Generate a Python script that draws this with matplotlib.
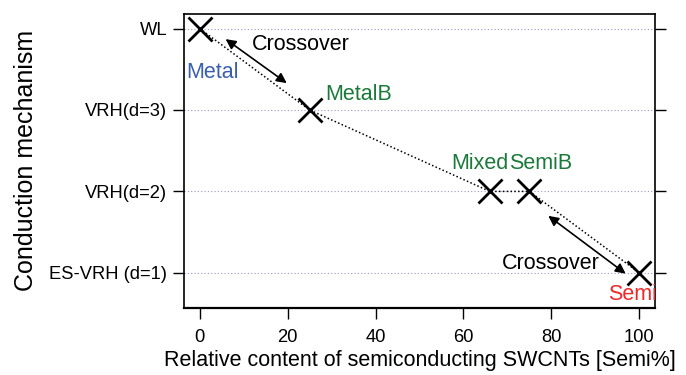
"""
Conduction mechanism vs. semiconducting SWCNT content.
"""
import matplotlib
matplotlib.use('Agg')
import matplotlib.pyplot as plt

plt.rcParams['font.family'] = ['Liberation Sans', 'DejaVu Sans']

# data
semi_pct = [0, 25, 66, 75, 100]
mechanism = [4, 3, 2, 2, 1]
sample_names = ['Metal', 'MetalB', 'Mixed', 'SemiB', 'Semi']
name_colors = ['#3a5fb0', '#1a7a3a', '#1a7a3a', '#1a7a3a', '#f02828']
name_pos = [(-3.0, 3.46), (28.5, 3.195), (57.2, 2.34), (70.4, 2.34), (92.8, 0.73)]

mech_levels = [1, 2, 3, 4]
mech_labels = ['ES-VRH (d=1)', 'VRH(d=2)', 'VRH(d=3)', 'WL']

arrows = [((5.9, 3.87), (19.8, 3.33)), ((79.3, 1.70), (96.9, 0.99))]
cross_pos = [(23.0, 3.80), (79.8, 1.11)]

fig = plt.figure(figsize=(6.86, 3.75), dpi=100)
ax = fig.add_axes([0.268, 0.179, 0.687, 0.784])

for lv in mech_levels:
    ax.axhline(lv, color='#9999cc', lw=0.8, ls=(0, (1, 2)), zorder=0)

ax.plot(semi_pct, mechanism, color='black', lw=1.1, ls=(0, (1, 1.5)), zorder=1)
ax.plot(semi_pct, mechanism, ls='none', marker='x', ms=17, mew=2, color='black', zorder=3)

for name, c, (tx, ty) in zip(sample_names, name_colors, name_pos):
    ax.text(tx, ty, name, color=c, fontsize=15.5, ha='left', va='center', clip_on=True)

for (p0, p1) in arrows:
    ax.annotate('', xy=p1, xytext=p0,
                arrowprops=dict(arrowstyle='<|-|>', color='black', lw=1.2,
                                mutation_scale=15, shrinkA=0, shrinkB=0))
for (tx, ty) in cross_pos:
    ax.text(tx, ty, 'Crossover', fontsize=15.5, ha='center', va='center')

ax.set_xlim(-3.6, 103.6)
ax.set_ylim(0.57, 4.18)
ax.set_xticks([0, 20, 40, 60, 80, 100])
ax.set_yticks(mech_levels)
ax.set_yticklabels(mech_labels)
ax.tick_params(axis='both', direction='out', length=8, width=1, labelsize=13.2)
ax.tick_params(axis='x', pad=7)
ax.tick_params(axis='y', right=True, pad=4)
ax.spines['bottom'].set_visible(False)
for s in ['left', 'right', 'top']:
    ax.spines[s].set_linewidth(1.2)
ax.axhline(0.57, color='black', lw=1.6, clip_on=False)

ax.set_xlabel('Relative content of semiconducting SWCNTs [Semi%]', fontsize=15.5, labelpad=3)
ax.set_ylabel('Conduction mechanism', fontsize=18, labelpad=8)

fig.savefig('out.png', dpi=100)
